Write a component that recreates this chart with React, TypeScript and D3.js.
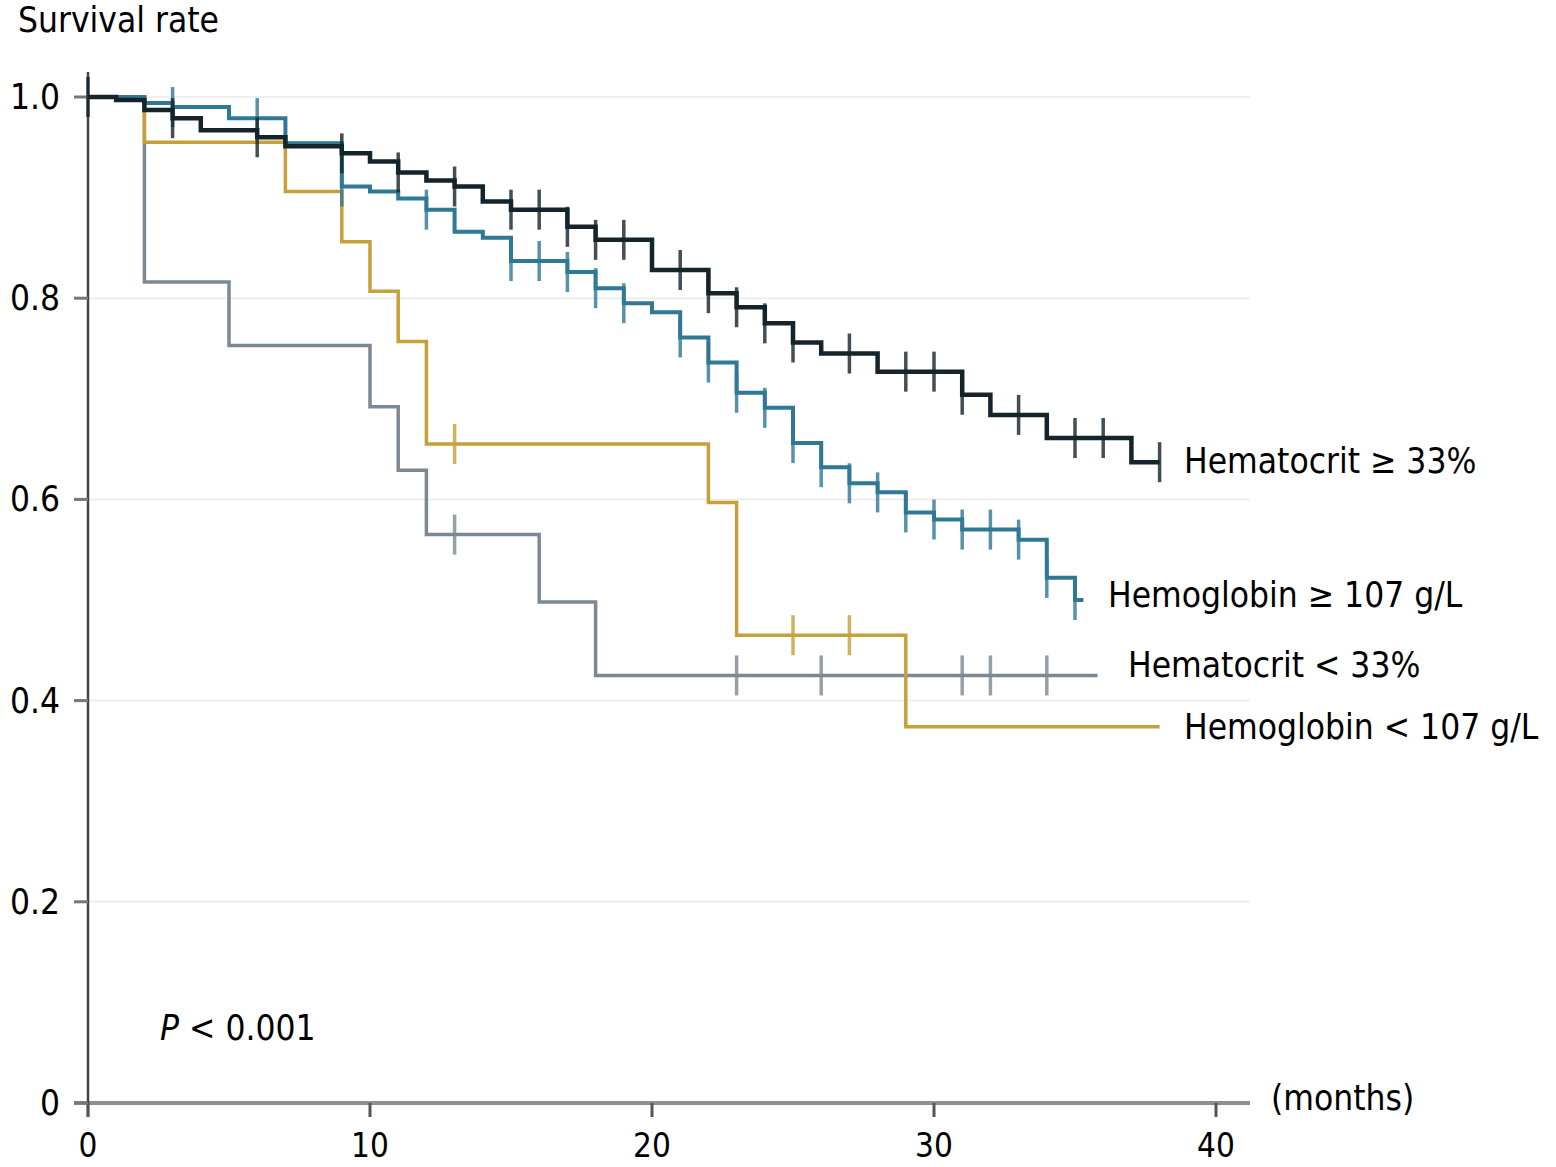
import * as d3 from 'd3';

const W = 1556;
const H = 1167;

// Hematocrit >= 33%
const hctHighT = [0, 1, 2, 3, 4, 6, 7, 9, 10, 11, 12, 13, 14, 15, 17, 18, 20, 22, 23, 24, 25, 26, 28, 31, 32, 34, 37];
const hctHighS = [1.0, 0.997, 0.987, 0.979, 0.967, 0.96, 0.951, 0.944, 0.936, 0.925, 0.917, 0.911, 0.896, 0.888, 0.871, 0.858, 0.828, 0.805, 0.791, 0.775, 0.756, 0.745, 0.727, 0.704, 0.684, 0.661, 0.637];
const hctHighEnd = 38;
const hctHighCens = [0, 3, 6, 9, 11, 13, 15, 16, 17, 18, 19, 21, 22, 23, 24, 25, 27, 29, 30, 31, 33, 35, 36, 38];

// Hemoglobin >= 107 g/L
const hbHighT = [0, 2, 3, 5, 7, 9, 10, 11, 12, 13, 14, 15, 17, 18, 19, 20, 21, 22, 23, 24, 25, 26, 27, 28, 29, 30, 31, 33, 34, 35];
const hbHighS = [1.0, 0.994, 0.99, 0.979, 0.954, 0.911, 0.906, 0.899, 0.888, 0.866, 0.86, 0.837, 0.826, 0.81, 0.795, 0.786, 0.761, 0.736, 0.706, 0.691, 0.656, 0.632, 0.616, 0.607, 0.587, 0.58, 0.57, 0.56, 0.522, 0.5];
const hbHighEnd = 35.3;
const hbHighCens = [3, 6, 9, 12, 15, 16, 17, 18, 19, 21, 22, 23, 24, 25, 26, 27, 28, 29, 30, 31, 32, 33, 34, 35];

// Hematocrit < 33%
const hctLowT = [0, 2, 5, 10, 11, 12, 16, 18];
const hctLowS = [1.0, 0.816, 0.753, 0.692, 0.629, 0.565, 0.498, 0.425];
const hctLowEnd = 35.8;
const hctLowCens = [13, 23, 26, 31, 32, 34];

// Hemoglobin < 107 g/L
const hbLowT = [0, 2, 7, 9, 10, 11, 12, 22, 23, 29];
const hbLowS = [1.0, 0.955, 0.906, 0.856, 0.807, 0.757, 0.655, 0.597, 0.465, 0.374];
const hbLowEnd = 38;
const hbLowCens = [13, 25, 27];

const xTicks = [0, 10, 20, 30, 40];
const yTicks = [0, 0.2, 0.4, 0.6, 0.8, 1.0];
const yTickLabels = ['0', '0.2', '0.4', '0.6', '0.8', '1.0'];

const x = d3.scaleLinear().domain([0, 40]).range([88, 1216]);
const y = d3.scaleLinear().domain([0, 1]).range([1103, 97]);

const font = "'DejaVu Sans Condensed', 'DejaVu Sans', sans-serif";
const fs = 35;

interface Curve {
  name: string;
  t: number[];
  s: number[];
  end: number;
  cens: number[];
  color: string;
  width: number;
  label: string;
  lx: number;
  ly: number;
}

const curves: Curve[] = [
  { name: 'hctLow', t: hctLowT, s: hctLowS, end: hctLowEnd, cens: hctLowCens, color: '#7c8994', width: 3.5, label: 'Hematocrit < 33%', lx: 1128, ly: 665 },
  { name: 'hbLow', t: hbLowT, s: hbLowS, end: hbLowEnd, cens: hbLowCens, color: '#c6a03a', width: 3.5, label: 'Hemoglobin < 107 g/L', lx: 1184, ly: 727 },
  { name: 'hbHigh', t: hbHighT, s: hbHighS, end: hbHighEnd, cens: hbHighCens, color: '#2f7896', width: 4, label: 'Hemoglobin \u2265 107 g/L', lx: 1108, ly: 595 },
  { name: 'hctHigh', t: hctHighT, s: hctHighS, end: hctHighEnd, cens: hctHighCens, color: '#15232b', width: 4.5, label: 'Hematocrit \u2265 33%', lx: 1184, ly: 461 },
];

const stepLine = d3.line<[number, number]>()
  .x(d => x(d[0]))
  .y(d => y(d[1]))
  .curve(d3.curveStepAfter);

function survAt(c: Curve, tm: number) {
  const i = d3.bisectRight(c.t, tm) - 1;
  return c.s[Math.max(0, i)];
}

export default function App() {
  return (
    <svg width={W} height={H} style={{ position: 'absolute', left: 0, top: 0, background: '#fff' }}>
      {/* grid */}
      {yTicks.filter(v => v > 0).map(v => (
        <line key={v} x1={x(0)} x2={1250} y1={y(v)} y2={y(v)} stroke="#eeeeee" strokeWidth={2} />
      ))}

      {/* axes */}
      <line x1={74} x2={1250} y1={y(0)} y2={y(0)} stroke="#8f8f8f" strokeWidth={4} />
      <line x1={x(0)} x2={x(0)} y1={y(0) + 14} y2={72} stroke="#444" strokeWidth={2.5} />
      {xTicks.map(v => (
        <line key={v} x1={x(v)} x2={x(v)} y1={y(0)} y2={y(0) + 14} stroke="#555" strokeWidth={3} />
      ))}
      {yTicks.map(v => (
        <line key={v} x1={74} x2={x(0)} y1={y(v)} y2={y(v)} stroke="#777" strokeWidth={3} />
      ))}

      {/* tick labels */}
      {xTicks.map(v => (
        <text key={v} x={x(v)} y={1157} textAnchor="middle" fontFamily={font} fontSize={33} fill="#000">{v}</text>
      ))}
      {yTicks.map((v, i) => (
        <text key={v} x={60} y={y(v) + 12} textAnchor="end" fontFamily={font} fontSize={fs} fill="#000">{yTickLabels[i]}</text>
      ))}
      <text x={18} y={32} fontFamily={font} fontSize={fs} fill="#000">Survival rate</text>
      <text x={1271} y={1110} fontFamily={font} fontSize={fs} fill="#000">(months)</text>
      <text x={160} y={1040} fontFamily={font} fontSize={fs} fill="#000">
        <tspan fontStyle="italic">P</tspan> &lt; 0.001
      </text>

      {/* curves */}
      {curves.map(c => {
        const pts: [number, number][] = c.t.map((t, i) => [t, c.s[i]] as [number, number]);
        pts.push([c.end, c.s[c.s.length - 1]]);
        return (
          <g key={c.name}>
            <path d={stepLine(pts) ?? ''} fill="none" stroke={c.color} strokeWidth={c.width} strokeLinejoin="miter" />
            {c.cens.map(tm => (
              <line key={tm} x1={x(tm)} x2={x(tm)} y1={y(survAt(c, tm)) - 20} y2={y(survAt(c, tm)) + 20}
                stroke={c.color} strokeWidth={3.5} opacity={0.8} />
            ))}
          </g>
        );
      })}

      {/* curve labels */}
      {curves.map(c => (
        <text key={c.name} x={c.lx} y={c.ly + 12} fontFamily={font} fontSize={fs} fill="#000">{c.label}</text>
      ))}
    </svg>
  );
}
